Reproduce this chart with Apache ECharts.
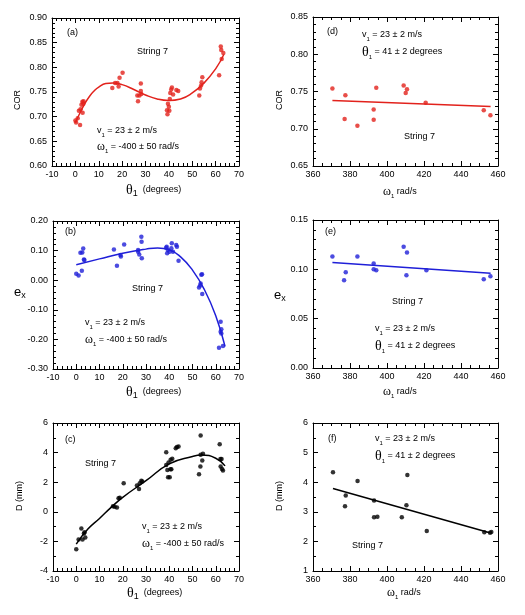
<!DOCTYPE html>
<html>
<head>
<meta charset="UTF-8">
<title>String 7</title>
<script src="https://cdn.jsdelivr.net/npm/echarts@6/dist/echarts.min.js"></script>
<style>
  html, body { margin: 0; padding: 0; background: #fff; }
  #main { width: 525px; height: 615px; }
</style>
</head>
<body>
<div id="main"></div>
<script type="text/javascript">
// (a) COR vs theta1
var aTheta = [0, 0.3, 1, 1.5, 2, 2.2, 2.6, 3, 3.1, 3.4, 3.5, 15.8, 17, 18, 18.5, 18.9, 20.2, 26.5, 26.8, 27.4, 28, 28.2, 28, 39.2, 39.4, 39.6, 40, 40.2, 40.4, 40.6, 41, 41.3, 41.8, 43.2, 44, 53, 53.3, 53.8, 54, 54.3, 61.5, 62.2, 62.4, 62.6, 63.3];
var aCor = [0.692, 0.688, 0.697, 0.712, 0.683, 0.715, 0.724, 0.730, 0.708, 0.726, 0.731, 0.758, 0.768, 0.768, 0.761, 0.779, 0.789, 0.743, 0.731, 0.743, 0.752, 0.746, 0.767, 0.713, 0.705, 0.726, 0.720, 0.712, 0.736, 0.748, 0.755, 0.759, 0.745, 0.754, 0.752, 0.743, 0.757, 0.763, 0.770, 0.780, 0.784, 0.842, 0.835, 0.817, 0.829];
var aFitTheta = [0, 2, 4, 6, 8, 10, 13, 16, 20, 25, 30, 35, 40, 45, 50, 55, 60, 63.5];
var aFitCor = [0.688, 0.708, 0.726, 0.741, 0.752, 0.760, 0.767, 0.768, 0.765, 0.755, 0.744, 0.736, 0.733, 0.736, 0.748, 0.768, 0.797, 0.826];

// (b) ex vs theta1
var bTheta = [0, 1, 1.8, 2.6, 3, 2.4, 3.3, 3.5, 16.2, 17.5, 19, 19.2, 20.6, 26.6, 27.1, 28, 28.1, 28.2, 26.6, 38.7, 39.1, 39.4, 40.1, 40.9, 41.1, 41.6, 43, 43.3, 44, 38.9, 52.8, 53.3, 53.8, 54.1, 54.2, 53.5, 61.4, 62.1, 62.1, 62.4, 63.1, 62.4];
var bEx = [0.022, 0.016, 0.093, 0.094, 0.107, 0.032, 0.070, 0.068, 0.104, 0.049, 0.085, 0.080, 0.121, 0.102, 0.087, 0.147, 0.130, 0.074, 0.096, 0.110, 0.091, 0.102, 0.096, 0.108, 0.125, 0.096, 0.119, 0.113, 0.066, 0.113, -0.025, -0.018, 0.018, 0.020, -0.047, -0.011, -0.228, -0.140, -0.174, -0.166, -0.222, -0.180];
var bFitTheta = [0, 10, 20, 30, 35, 40, 45, 50, 55, 60, 64];
var bFitEx = [0.052, 0.072, 0.091, 0.105, 0.109, 0.103, 0.078, 0.034, -0.030, -0.120, -0.224];

// (c) D vs theta1
var cTheta = [0, 1, 2.2, 2.7, 3.3, 3.6, 3.9, 15.8, 16.5, 17.5, 18.2, 18.7, 20.4, 26.1, 27, 27.3, 28, 28.4, 38.7, 38.7, 39.2, 39.5, 39.7, 40.2, 40.5, 40.6, 40.9, 41.3, 42.8, 43.3, 44, 52.8, 53.4, 53.5, 53.5, 54.2, 54.5, 61.7, 62, 62.1, 62.5, 62.7, 63.1];
var cD = [-2.53, -1.87, -1.13, -1.87, -1.47, -1.38, -1.74, 0.38, 0.34, 0.29, 0.91, 0.95, 1.93, 1.77, 1.54, 1.93, 2.09, 2.04, 4.03, 3.17, 2.83, 2.33, 3.33, 2.33, 2.88, 3.51, 2.88, 3.58, 4.30, 4.37, 4.42, 2.54, 3.06, 3.85, 5.16, 3.47, 3.92, 4.57, 3.56, 3.06, 3.56, 2.90, 2.79];
var cFitTheta = [0, 5, 10, 15, 20, 30, 40, 50, 54, 60, 64];
var cFitD = [-2.19, -1.17, -0.45, 0.30, 0.98, 2.10, 3.24, 3.74, 3.83, 3.62, 3.10];

// (d) COR vs omega1
var dOmega = [370.5, 377.5, 377.1, 384, 392.8, 392.8, 394.2, 409, 410.1, 410.8, 420.9, 452.3, 455.9];
var dCor = [0.754, 0.745, 0.713, 0.704, 0.726, 0.712, 0.755, 0.758, 0.748, 0.753, 0.735, 0.725, 0.718];
var dFitOmega = [370.5, 456];
var dFitCor = [0.738, 0.730];

// (e) ex vs omega1
var eOmega = [370.5, 376.8, 377.7, 384, 392.8, 392.8, 394.2, 409, 410.8, 410.5, 421.3, 452.3, 455.9];
var eEx = [0.113, 0.089, 0.097, 0.113, 0.106, 0.100, 0.099, 0.123, 0.117, 0.094, 0.099, 0.090, 0.093];
var eFitOmega = [370.5, 456];
var eFitEx = [0.107, 0.096];

// (f) D vs omega1
var fOmega = [370.8, 377.7, 377.3, 384.1, 393, 393, 394.8, 408, 410.5, 411, 421.5, 452.6, 455.7, 456.4];
var fD = [4.34, 3.55, 3.19, 4.04, 3.38, 2.82, 2.83, 2.82, 3.22, 4.24, 2.35, 2.31, 2.29, 2.32];
var fFitOmega = [370.8, 455.5];
var fFitD = [3.79, 2.29];

var RED = '#e2221c', BLUE = '#1f1fd8', BLACK = '#000';
var SANS = 'Liberation Sans', SERIF = 'Liberation Serif';

function pairs(xs, ys) {
    return xs.map(function (x, i) { return [x, ys[i]]; });
}

var grids = [
    { left: 52, top: 18, width: 187, height: 148 },   // a
    { left: 53, top: 221, width: 186, height: 148 },  // b
    { left: 53, top: 423, width: 186, height: 148 },  // c
    { left: 313, top: 17, width: 185, height: 149 },  // d
    { left: 313, top: 220, width: 185, height: 148 }, // e
    { left: 313, top: 423, width: 185, height: 148 }  // f
];

// per grid: x range, y range
var axisSpec = [
    { x: [-10, 70, 10, 5], y: [0.6, 0.9, 0.05, 5], yDec: 2 },
    { x: [-10, 70, 10, 5], y: [-0.3, 0.2, 0.1, 5], yDec: 2 },
    { x: [-10, 70, 10, 5], y: [-4, 6, 2, 2], yDec: 0 },
    { x: [360, 460, 20, 4], y: [0.65, 0.85, 0.05, 5], yDec: 2 },
    { x: [360, 460, 20, 4], y: [0, 0.15, 0.05, 5], yDec: 2 },
    { x: [360, 460, 20, 4], y: [1, 6, 1, 2], yDec: 0 }
];

function makeAxis(gi, pos, r, showLabel, dec) {
    return {
        type: 'value', gridIndex: gi, position: pos,
        min: r[0], max: r[1], interval: r[2],
        axisLine: { show: true, onZero: false, lineStyle: { color: BLACK, width: 1 } },
        axisTick: { show: true, inside: true, length: 5, lineStyle: { color: BLACK } },
        minorTick: { show: true, splitNumber: r[3], length: 3, lineStyle: { color: BLACK } },
        splitLine: { show: false },
        minorSplitLine: { show: false },
        axisLabel: {
            show: showLabel, color: BLACK, fontSize: 9, fontFamily: SANS,
            margin: pos === 'left' ? 5 : 4,
            showMinLabel: true, showMaxLabel: true,
            formatter: function (v) { return Number(v).toFixed(dec); }
        }
    };
}

var xAxes = [], yAxes = [];
axisSpec.forEach(function (s, gi) {
    xAxes.push(makeAxis(gi, 'bottom', s.x, true, 0));
    xAxes.push(makeAxis(gi, 'top', s.x, false, 0));
    yAxes.push(makeAxis(gi, 'left', s.y, true, s.yDec));
    yAxes.push(makeAxis(gi, 'right', s.y, false, s.yDec));
});

function scatter(gi, xs, ys, color) {
    return {
        type: 'scatter', xAxisIndex: gi * 2, yAxisIndex: gi * 2,
        data: pairs(xs, ys), symbolSize: 4.5, itemStyle: { color: color },
        silent: true
    };
}
function fit(gi, xs, ys, color) {
    return {
        type: 'line', xAxisIndex: gi * 2, yAxisIndex: gi * 2,
        data: pairs(xs, ys), smooth: true, showSymbol: false,
        lineStyle: { color: color, width: 1.5 }, silent: true
    };
}

var series = [
    fit(0, aFitTheta, aFitCor, RED), scatter(0, aTheta, aCor, RED),
    fit(1, bFitTheta, bFitEx, BLUE), scatter(1, bTheta, bEx, BLUE),
    fit(2, cFitTheta, cFitD, BLACK), scatter(2, cTheta, cD, BLACK),
    fit(3, dFitOmega, dFitCor, RED), scatter(3, dOmega, dCor, RED),
    fit(4, eFitOmega, eFitEx, BLUE), scatter(4, eOmega, eEx, BLUE),
    fit(5, fFitOmega, fFitD, BLACK), scatter(5, fOmega, fD, BLACK)
];

var rich = {
    n: { fontSize: 9, fontFamily: SANS, color: BLACK, lineHeight: 14 },
    g: { fontSize: 12, fontFamily: SERIF, color: BLACK, lineHeight: 14 },
    G: { fontSize: 14, fontFamily: SERIF, color: BLACK, lineHeight: 16 },
    s: { fontSize: 6, fontFamily: SANS, color: BLACK, lineHeight: 7, verticalAlign: 'bottom' },
    S: { fontSize: 9, fontFamily: SANS, color: BLACK, lineHeight: 9, verticalAlign: 'bottom' },
    e: { fontSize: 13, fontFamily: SANS, color: BLACK, lineHeight: 16 }
};

function txt(x, y, text, rot) {
    var el = {
        type: 'text', x: x, y: y, silent: true,
        style: { text: text, rich: rich, align: rot ? 'center' : 'left', verticalAlign: 'middle', fill: BLACK }
    };
    if (rot) { el.rotation = Math.PI / 2; }
    return el;
}

var V1 = '{n|v}{s|1}{n| = 23 ± 2 m/s}';
var W1 = '{g|ω}{s|1}{n| = -400 ± 50 rad/s}';
var T1 = '{G|θ}{s|1}{n| = 41 ± 2 degrees}';
var XT = '{G|θ}{S|1}{n|  (degrees)}';
var XW = '{g|ω}{s|1}{n| rad/s}';
var STR = '{n|String 7}';

var graphics = [
    // (a)
    txt(67, 33, '{n|(a)}'), txt(137, 52, STR), txt(97, 131, V1), txt(97, 147, W1),
    txt(18, 100, '{n|COR}', true), txt(126, 190, XT),
    // (b)
    txt(65, 232, '{n|(b)}'), txt(132, 289, STR), txt(85, 323, V1), txt(85, 340, W1),
    txt(14, 292, '{e|e}{S|x}'), txt(126, 392, XT),
    // (c)
    txt(65, 440, '{n|(c)}'), txt(85, 464, STR), txt(142, 527, V1), txt(142, 544, W1),
    txt(20, 496, '{n|D (mm)}', true), txt(127, 593, XT),
    // (d)
    txt(327, 32, '{n|(d)}'), txt(362, 35, V1), txt(362, 52, T1), txt(404, 137, STR),
    txt(280, 100, '{n|COR}', true), txt(383, 192, XW),
    // (e)
    txt(325, 232, '{n|(e)}'), txt(392, 302, STR), txt(375, 329, V1), txt(375, 346, T1),
    txt(274, 295, '{e|e}{S|x}'), txt(383, 392, XW),
    // (f)
    txt(328, 439, '{n|(f)}'), txt(375, 439, V1), txt(375, 456, T1), txt(352, 546, STR),
    txt(280, 496, '{n|D (mm)}', true), txt(387, 593, XW)
];

var myChart = echarts.init(document.getElementById('main'), null, { renderer: 'canvas' });
var option = {
    backgroundColor: '#fff',
    animation: false,
    grid: grids,
    xAxis: xAxes,
    yAxis: yAxes,
    series: series,
    graphic: graphics
};
myChart.setOption(option);
</script>
</body>
</html>
